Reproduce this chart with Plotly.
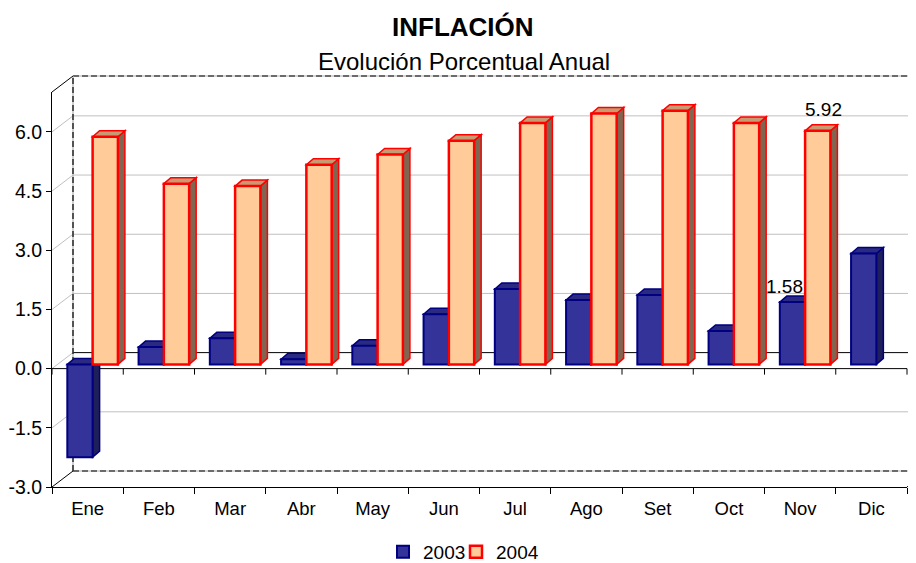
import plotly.graph_objects as go

# ---------------- data ----------------
months = ["Ene", "Feb", "Mar", "Abr", "May", "Jun", "Jul", "Ago", "Set", "Oct", "Nov", "Dic"]
inf_2003 = [-2.35, 0.44, 0.66, 0.13, 0.47, 1.27, 1.91, 1.63, 1.76, 0.85, 1.58, 2.81]
inf_2004 = [5.77, 4.58, 4.52, 5.06, 5.32, 5.67, 6.12, 6.36, 6.43, 6.12, 5.92, None]
y_ticks = [-3.0, -1.5, 0.0, 1.5, 3.0, 4.5, 6.0]
y_ticktext = ["%.1f" % v for v in y_ticks]
labeled_month = "Nov"

# ---------------- geometry (pixels, in window coordinates) ----------------
OFF = 8                      # page body margin of the browser
WIN_W, WIN_H = 916, 563
W, H = WIN_W - OFF, WIN_H - OFF
Lw, Rw, Tw, Bw = 52, 907, 92, 487        # plot area in window pixels
L, R, T, B = Lw - OFF, Rw - OFF, Tw - OFF, Bw - OFF
Y0, Y1 = -3.0, 7.01
PW, PH = R - L, B - T
ppu_y = PH / (Y1 - Y0)
ppu_x = PW / len(months)
bar_shift_px = 4.2          # bars sit slightly behind the front plane
wall_dx, wall_dy = 21, 16   # depth of the back wall
face_dx, face_dy = 7, 6     # bar depth
FONT = "Liberation Sans, Arial, sans-serif"

def pxx(p):          # window px -> paper x
    return (p - OFF - L) / PW

def pyy(p):          # window px -> paper y
    return (B - (p - OFF)) / PH

def pyv(v):
    return (v - Y0) / (Y1 - Y0)

wx = wall_dx / PW
wy = wall_dy / PH
XR = pxx(WIN_W)

series = [
    dict(name="2003", vals=inf_2003, fill="#333399", line="#000080", lw=2.0,
         side="#1F1F5A", top="#2A2A80", offset=-0.285, lab_dx=-8, lab_dy=16,
         legend="legend", leg_x=383),
    dict(name="2004", vals=inf_2004, fill="#FFCC99", line="#FF0000", lw=2.5,
         side="#806650", top="#C89A72", offset=0.07, lab_dx=6, lab_dy=21,
         legend="legend2", leg_x=456),
]
BW = 0.355

shapes = []
GRID = "#C0C0C0"

# back wall gridlines and left wall diagonals
for v in y_ticks:
    if v not in (0.0, -3.0):
        shapes.append(dict(type="line", xref="paper", yref="paper", x0=wx, x1=XR,
                           y0=pyv(v) + wy, y1=pyv(v) + wy, line=dict(color=GRID, width=1), layer="below"))
    if v != -3.0:
        shapes.append(dict(type="line", xref="paper", yref="paper", x0=0, x1=wx,
                           y0=pyv(v), y1=pyv(v) + wy, line=dict(color=GRID, width=1), layer="below"))

# back zero (floor) line
shapes.append(dict(type="line", xref="paper", yref="paper", x0=wx, x1=XR,
                   y0=pyv(0) + wy, y1=pyv(0) + wy, line=dict(color="black", width=1), layer="below"))

# dashed back-wall border: top, bottom, left edge
def dashed(x0, y0, x1, y1):
    shapes.append(dict(type="line", xref="paper", yref="paper", x0=x0, y0=y0, x1=x1, y1=y1,
                       line=dict(color="#B0B0B0", width=1.2), layer="below"))
    shapes.append(dict(type="line", xref="paper", yref="paper", x0=x0, y0=y0, x1=x1, y1=y1,
                       line=dict(color="black", width=1.2, dash="6px,3px"), layer="below"))

dashed(wx, 1 + wy, XR, 1 + wy)
dashed(wx, pyv(Y0) + wy, XR, pyv(Y0) + wy)
dashed(wx, pyv(Y0) + wy, wx, 1 + wy)

# left wall top / bottom diagonals
for yy in (0.0, 1.0):
    shapes.append(dict(type="line", xref="paper", yref="paper", x0=0, x1=wx,
                       y0=yy, y1=yy + wy, line=dict(color="black", width=1), layer="below"))
# right bottom diagonal
shapes.append(dict(type="line", xref="paper", yref="paper", x0=1, x1=XR,
                   y0=0, y1=(WIN_W - Rw) * wall_dy / wall_dx / PH, line=dict(color="black", width=1), layer="below"))

# front zero line with ticks
shapes.append(dict(type="line", xref="paper", yref="paper", x0=0, x1=1,
                   y0=pyv(0), y1=pyv(0), line=dict(color="black", width=1), layer="below"))
for k in range(len(months) + 1):
    shapes.append(dict(type="line", xref="paper", yref="paper", x0=k / len(months), x1=k / len(months),
                       y0=pyv(0), y1=pyv(0) - 6 / PH, line=dict(color="black", width=1), layer="below"))

# 3-D faces of the bars (side and top), computed from the data
fdx = face_dx / ppu_x
fdy = face_dy / ppu_y
for s in series:
    for i, v in enumerate(s["vals"]):
        if v is None:
            continue
        x0 = i + s["offset"]
        x1 = x0 + BW
        lo, hi = min(0, v), max(0, v)
        side = f"M {x1},{lo} L {x1 + fdx},{lo + fdy} L {x1 + fdx},{hi + fdy} L {x1},{hi} Z"
        top = f"M {x0},{hi} L {x0 + fdx},{hi + fdy} L {x1 + fdx},{hi + fdy} L {x1},{hi} Z"
        for p, c in ((side, s["side"]), (top, s["top"])):
            shapes.append(dict(type="path", xref="x", yref="y2", path=p, fillcolor=c,
                               line=dict(color=s["line"], width=1.5), layer="below"))

fig = go.Figure()
fig.add_trace(go.Scatter(x=months, y=[None] * len(months), showlegend=False, hoverinfo="skip"))
for s in series:
    fig.add_trace(go.Bar(x=months, y=s["vals"], name=s["name"], yaxis="y2", legend=s["legend"],
                         offset=s["offset"], width=BW,
                         marker=dict(color=s["fill"], line=dict(color=s["line"], width=s["lw"]))))

annotations = [
    dict(text="<b>INFLACIÓN</b>", xref="paper", yref="paper", x=pxx(463), y=pyy(27),
         xanchor="center", yanchor="middle", showarrow=False, font=dict(size=26, color="black", family=FONT)),
    dict(text="Evolución Porcentual Anual", xref="paper", yref="paper", x=pxx(463.5), y=pyy(61),
         xanchor="center", yanchor="middle", showarrow=False, font=dict(size=24, color="black", family=FONT)),
]
mi = months.index(labeled_month)
for s in series:
    v = s["vals"][mi]
    annotations.append(dict(text="%.2f" % v, xref="x", yref="y2", x=mi + s["offset"] + BW / 2, y=v,
                            xshift=s["lab_dx"], yshift=s["lab_dy"], xanchor="center", yanchor="middle",
                            showarrow=False, font=dict(size=19, color="black", family=FONT)))

legend_common = dict(orientation="h", xanchor="left", y=pyy(552), yanchor="middle",
                     font=dict(size=19), itemwidth=30, tracegroupgap=0,
                     bgcolor="rgba(0,0,0,0)", borderwidth=0)

shift = bar_shift_px / ppu_y
fig.update_layout(
    width=W, height=H,
    margin=dict(l=L, r=W - R, t=T, b=H - B, pad=0, autoexpand=False),
    paper_bgcolor="white", plot_bgcolor="rgba(0,0,0,0)",
    font=dict(family=FONT, size=18, color="black"),
    barmode="overlay",
    showlegend=True,
    legend=dict(x=pxx(series[0]["leg_x"]), **legend_common),
    legend2=dict(x=pxx(series[1]["leg_x"]), **legend_common),
    xaxis=dict(type="category", categoryorder="array", categoryarray=months, range=[-0.5, len(months) - 0.5],
               tickson="boundaries", ticks="outside", ticklen=6, tickcolor="black",
               showline=True, linecolor="black", linewidth=1, showgrid=False, zeroline=False,
               tickfont=dict(size=18.5), ticklabelstandoff=5, fixedrange=True, automargin=False),
    yaxis=dict(range=[Y0, Y1], tickvals=y_ticks, ticktext=y_ticktext, ticks="outside", ticklen=5,
               tickcolor="black", showline=True, linecolor="black", linewidth=1, showgrid=False,
               zeroline=False, tickfont=dict(size=19.5), fixedrange=True, automargin=False),
    yaxis2=dict(overlaying="y", range=[Y0 - shift, Y1 - shift], visible=False, showgrid=False,
                zeroline=False, fixedrange=True, automargin=False),
    shapes=shapes,
    annotations=annotations,
)

fig.write_html("out.html")
